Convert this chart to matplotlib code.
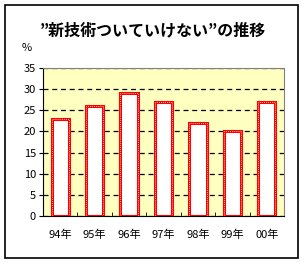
import matplotlib.pyplot as plt
from matplotlib.patches import Rectangle

plt.rcParams['font.family'] = ['Noto Sans CJK JP', 'DejaVu Sans']

years = ['94年', '95年', '96年', '97年', '98年', '99年', '00年']
values = [23, 26, 29, 27, 22, 20, 27]
yticks = [0, 5, 10, 15, 20, 25, 30, 35]

fig = plt.figure(figsize=(3.06, 2.64), dpi=100)
# outer chart border
fig.patches.append(Rectangle((5 / 306, 6 / 264), 293 / 306, 253 / 264,
                             transform=fig.transFigure, fill=False,
                             edgecolor='black', linewidth=1.2))

ax = fig.add_axes([43 / 306, 48 / 264, 241 / 306, 148 / 264])
ax.set_facecolor('#FFFFC0')
x = range(len(years))
ax.bar(x, values, width=0.5, color='white', edgecolor='red', linewidth=2.2, zorder=3)
ax.bar(x, values, width=0.5, color='none', edgecolor='white', linewidth=0.6,
       linestyle=(0, (1, 1.5)), zorder=4)

ax.set_xlim(-0.5, len(years) - 0.5)
ax.set_ylim(0, 35)
ax.set_yticks(yticks)
ax.set_xticks(x)
ax.set_xticklabels(years, fontsize=8)
ax.tick_params(axis='x', length=0, pad=10)
ax.set_xticks([i + 0.5 for i in range(len(years) - 1)], minor=True)
ax.tick_params(axis='x', which='minor', direction='in', length=3)
ax.tick_params(axis='y', labelsize=8, length=3, pad=2)
ax.yaxis.grid(True, color='black', linestyle=(0, (4, 3)), linewidth=0.9)
ax.set_axisbelow(True)
for s in ['top', 'right']:
    ax.spines[s].set_color('gray')
for s in ['left', 'bottom']:
    ax.spines[s].set_color('black')

fig.text(27 / 306, 1 - 48 / 264, '%', fontsize=8, ha='center', va='center')
fig.text(153 / 306, 1 - 30 / 264, '”新技術ついていけない”の推移', fontsize=11.5,
         fontweight='bold', ha='center', va='center')

fig.savefig('out.png', dpi=100)
